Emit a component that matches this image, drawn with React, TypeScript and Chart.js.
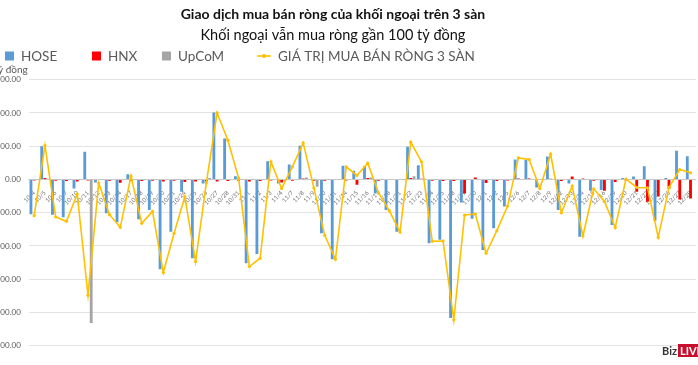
import React, { useEffect, useRef } from "react";
import { Chart, registerables } from "chart.js";

Chart.register(...registerables);

// ---------- data ----------
const dates = [
  "10/4", "10/5", "10/6", "10/7", "10/10", "10/11", "10/12", "10/13", "10/14", "10/17",
  "10/18", "10/19", "10/20", "10/21", "10/24", "10/25", "10/26", "10/27", "10/28", "10/31",
  "11/1", "11/2", "11/3", "11/4", "11/7", "11/8", "11/9", "11/10", "11/11", "11/14",
  "11/15", "11/16", "11/17", "11/18", "11/21", "11/22", "11/23", "11/24", "11/25", "11/28",
  "11/29", "11/30", "12/1", "12/2", "12/5", "12/6", "12/7", "12/8", "12/9", "12/12",
  "12/13", "12/14", "12/15", "12/16", "12/19", "12/20", "12/21", "12/22", "12/23", "12/26",
  "12/27", "12/28",
];

const hose = [
  -525, 500, -530, -570, -135, 415, -45, -510, -645, 80,
  -600, -460, -1350, -785, -185, -1185, -60, 1005, 615, 50,
  -1260, -1120, 275, -60, 225, 505, -10, -810, -1200, 205,
  130, 200, -210, -460, -785, 490, 215, -960, -905, -2085,
  -345, -590, -1060, -735, -405, 300, 295, -120, 345, -460,
  -60, -860, -170, -160, -685, 20, 45, 200, -620, 20,
  430, 350,
];

const hnx = [
  -15, 20, -20, -25, -30, -15, -10, -20, -50, -25,
  -25, -20, -30, -20, -40, -30, -30, -30, -25, -20,
  -30, -25, -15, -45, -20, 15, -20, -20, -10, -15,
  -80, 20, -20, -10, -10, 20, 10, -20, -25, -25,
  -210, 30, -55, -25, -15, 15, 15, -10, 10, -25,
  45, 15, -20, -170, -40, -20, -185, -335, -255, -140,
  -300, -285,
];

const upcom = [
  -5, 10, -5, -5, -5, -2160, -5, 5, -5, 5,
  -5, 5, -10, -5, -5, -5, 20, 5, 5, -5,
  -5, -5, 5, -20, 5, 30, -110, -5, -5, 5,
  5, 30, -5, 5, -5, 50, 10, -5, 5, -5,
  5, 5, -5, 5, 5, 5, 5, -5, 5, 5,
  -5, 5, 5, 5, 5, 5, 5, 5, 5, 5,
  5, 5,
];

const total = [
  -545, 510, -565, -630, -220, -1740, -55, -530, -720, 50,
  -660, -480, -1400, -810, -260, -1235, -50, 1000, 590, 20,
  -1310, -1185, 265, -135, 190, 550, -130, -840, -1200, 190,
  60, 245, -200, -470, -790, 560, 265, -930, -925, -2110,
  -535, -520, -1110, -770, -400, 325, 300, -135, 380, -500,
  -100, -850, -140, -330, -725, 5, -120, -125, -870, -120,
  150, 100,
];

const seriesNames = ["HOSE", "HNX", "UpCoM", "GIÁ TRỊ MUA BÁN RÒNG 3 SÀN"];
const titleText = "Giao dịch mua bán ròng của khối ngoại trên 3 sàn";
const subtitleText = "Khối ngoại vẫn mua ròng gần 100 tỷ đồng";
const unitText = "Tỷ đồng";
const yMin = -2500;
const yMax = 1500;
const yStep = 500;

// ---------- style / layout ----------
const BLUE = "#5B9BD5";
const RED = "#FF0000";
const GRAY = "#A5A5A5";
const GOLD = "#FFC000";
const TEXT = "#595959";
const FONT = "Lato, 'Open Sans', sans-serif";

const SHIFT = 30; // canvas extends beyond the left edge (reference is cropped)
const CW = 770;
const CH = 365;
const PLOT_LEFT = 28.8;
const PLOT_RIGHT = 695.9;
const PLOT_BOTTOM_GAP = 19.3;

const legendSquareX = [5, 92, 162];
const legendLineX = 257;
const legendY = 56;

const extras = {
  id: "extras",
  afterDraw(chart: any) {
    const ctx: CanvasRenderingContext2D = chart.ctx;
    const area = chart.chartArea;
    const ds = chart.data.datasets;
    ctx.save();
    // legend
    ctx.font = `13.5px ${FONT}`;
    ctx.textBaseline = "middle";
    ctx.textAlign = "left";
    for (let i = 0; i < 3; i++) {
      const x = legendSquareX[i] + SHIFT;
      ctx.fillStyle = ds[i].backgroundColor;
      ctx.fillRect(x, legendY - 4.5, 9, 9);
      ctx.fillStyle = TEXT;
      ctx.fillText(ds[i].label, x + 16, legendY + 0.5);
    }
    const lx = legendLineX + SHIFT;
    ctx.strokeStyle = ds[3].borderColor;
    ctx.lineWidth = 1.6;
    ctx.beginPath();
    ctx.moveTo(lx, legendY);
    ctx.lineTo(lx + 14, legendY);
    ctx.stroke();
    ctx.fillStyle = ds[3].borderColor;
    ctx.beginPath();
    ctx.arc(lx + 7, legendY, 2, 0, Math.PI * 2);
    ctx.fill();
    ctx.fillStyle = TEXT;
    ctx.fillText(ds[3].label, lx + 21, legendY + 0.5);

    // unit label
    ctx.font = `10px ${FONT}`;
    ctx.textAlign = "right";
    ctx.fillStyle = TEXT;
    ctx.fillText(unitText, area.left - 1, 70);

    // watermark
    const bx = 662 + SHIFT;
    ctx.font = `bold 11px ${FONT}`;
    ctx.textAlign = "left";
    ctx.fillStyle = "#333333";
    ctx.fillText("Biz", bx, 351);
    const w = ctx.measureText("Biz").width;
    ctx.fillStyle = "#C8102E";
    ctx.fillRect(bx + w + 1, 344, 30, 13);
    ctx.fillStyle = "#ffffff";
    ctx.fillText("LIVE", bx + w + 3, 351);
    ctx.restore();
  },
};

export default function App() {
  const ref = useRef<HTMLCanvasElement>(null);

  useEffect(() => {
    const canvas = ref.current;
    if (!canvas) return;
    const chart = new Chart(canvas, {
      type: "bar",
      data: {
        labels: dates,
        datasets: [
          { type: "bar", label: seriesNames[0], data: hose, backgroundColor: BLUE, order: 1 },
          { type: "bar", label: seriesNames[1], data: hnx, backgroundColor: RED, order: 1 },
          { type: "bar", label: seriesNames[2], data: upcom, backgroundColor: GRAY, order: 1 },
          {
            type: "line",
            label: seriesNames[3],
            data: total,
            borderColor: GOLD,
            backgroundColor: GOLD,
            borderWidth: 1.6,
            pointRadius: 1.6,
            pointBorderWidth: 0,
            tension: 0,
            order: 0,
          },
        ] as any,
      },
      options: {
        responsive: false,
        animation: false,
        layout: {
          padding: { left: 0, right: CW - SHIFT - PLOT_RIGHT, top: 0, bottom: PLOT_BOTTOM_GAP },
        },
        datasets: { bar: { categoryPercentage: 0.9, barPercentage: 0.88 } } as any,
        plugins: {
          legend: { display: false },
          tooltip: { enabled: false },
          title: {
            display: true,
            text: titleText,
            color: "#111111",
            font: { family: FONT, size: 14, weight: "bold" },
            padding: { top: 6, bottom: 0 },
          },
          subtitle: {
            display: true,
            text: subtitleText,
            color: "#111111",
            font: { family: FONT, size: 14.5 },
            padding: { top: 4, bottom: 35.5 },
          },
        },
        scales: {
          x: {
            position: { y: 0 } as any,
            offset: true,
            grid: { display: false },
            border: { display: true, color: "#c8c8c8" },
            ticks: {
              autoSkip: false,
              minRotation: 45,
              maxRotation: 45,
              font: { family: FONT, size: 6 },
              color: "#6e6e6e",
              padding: 2,
            },
          },
          y: {
            min: yMin,
            max: yMax,
            ticks: {
              stepSize: yStep,
              callback: (v: any) => Number(v).toFixed(2),
              font: { family: FONT, size: 8 },
              color: TEXT,
              padding: 8,
            },
            grid: { color: "#e3e3e3", drawTicks: false },
            border: { display: false },
            afterFit: (s: any) => {
              s.width = SHIFT + PLOT_LEFT;
            },
          },
        },
      } as any,
      plugins: [extras],
    });
    return () => chart.destroy();
  }, []);

  return (
    <div
      style={{
        position: "fixed",
        left: 0,
        top: 0,
        width: 698,
        height: 365,
        overflow: "hidden",
        background: "#ffffff",
      }}
    >
      <canvas
        ref={ref}
        width={CW}
        height={CH}
        style={{ position: "absolute", left: -SHIFT, top: 0, width: CW, height: CH }}
      />
    </div>
  );
}
